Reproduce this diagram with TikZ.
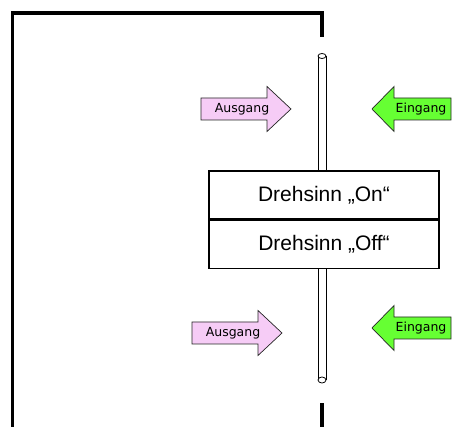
\documentclass[tikz,border=0pt]{standalone}
\usepackage{fontspec}
\setmainfont{Liberation Sans}
\newfontfamily\arrowfont{DejaVu Sans}
\usetikzlibrary{positioning}

\definecolor{outpink}{RGB}{246,204,246}
\definecolor{ingreen}{RGB}{102,255,51}

\tikzset{
  wall/.style={line width=3.5pt},
  shaft/.style={line width=0.8pt},
  switchbox/.style={draw, line width=1.2pt, fill=white, minimum width=230pt,
    minimum height=48pt, inner sep=0pt, font=\fontsize{21}{24}\selectfont},
  outarrow/.style={fill=outpink, draw=black!85, line width=0.7pt},
  inarrow/.style={fill=ingreen, draw=black!85, line width=0.7pt},
  arrowtext/.style={inner sep=0pt, font=\arrowfont\fontsize{12.5}{14}\selectfont},
}

\begin{document}
\begin{tikzpicture}[x=1pt, y=-1pt, line join=miter]
  \useasboundingbox (0,0) rectangle (463,427);
  \fill[white] (0,0) rectangle (463,427);

  %% ---- housing wall ----
  \draw[wall] (12.5,427) -- (12.5,13) -- (322,13) -- (322,37);
  \draw[wall] (322,403) -- (322,427);

  %% ---- shaft ----
  \draw[shaft] (318,56) -- (318,380) (326,56) -- (326,380);
  \draw[shaft, fill=white] (322,56) ellipse (4pt and 2.5pt);
  \draw[shaft, fill=white] (322,380) ellipse (4pt and 3pt);

  %% ---- direction switch ----
  \node[switchbox] (on) at (324,195) {Drehsinn „On“};
  \node[switchbox, below=0pt of on] (off) {Drehsinn „Off“};

  %% ---- outputs (left of shaft) ----
  \foreach \x/\y/\n in {201/109/out1, 192/333/out2}{
    \draw[outarrow] (\x,\y-11) -- ++(66,0) -- ++(0,-11.5) -- ++(24,22.5)
      -- ++(-24,22.5) -- ++(0,-11.5) -- ++(-66,0) -- cycle;
    \node[arrowtext] (\n) at (\x+41,\y) {Ausgang};
  }

  %% ---- inputs (right of shaft) ----
  \foreach \y/\n in {109/in1, 328/in2}{
    \draw[inarrow] (451,\y-11) -- ++(-57,0) -- ++(0,-11.5) -- ++(-22,22.5)
      -- ++(22,22.5) -- ++(0,-11.5) -- ++(57,0) -- cycle;
    \node[arrowtext] (\n) at (421,\y) {Eingang};
  }

\end{tikzpicture}
\end{document}
